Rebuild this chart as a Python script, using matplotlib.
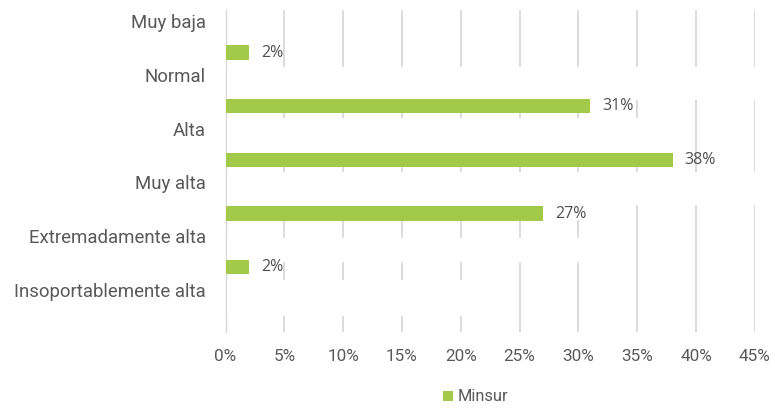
import matplotlib.pyplot as plt
from matplotlib.patches import Rectangle

# data
categories = ["Muy baja", "Normal", "Alta", "Muy alta",
              "Extremadamente alta", "Insoportablemente alta"]
minsur = [2, 31, 38, 27, 2, 0]
value_labels = ["2%", "31%", "38%", "27%", "2%", ""]
x_ticks = [0, 5, 10, 15, 20, 25, 30, 35, 40, 45]

green = "#A2C94A"
text_gray = "#595959"

plt.rcParams['font.family'] = ['Roboto', 'DejaVu Sans']

fig = plt.figure(figsize=(7.75, 4.08), dpi=100)
ax = fig.add_axes([0.291, 0.186, 0.683, 0.789])
ax.set_axisbelow(True)

pos = list(range(len(categories)))
bar_pos = [p + 0.29 for p in pos]
label_pos = [p - 0.29 for p in pos]

ax.barh(bar_pos, minsur, height=0.27, color=green, zorder=3, label="Minsur")
for y, v, s in zip(bar_pos, minsur, value_labels):
    if s:
        ax.text(v + 1.0, y, s, va="center", ha="left", fontsize=11.5,
                color="#505050", family=['Open Sans', 'DejaVu Sans'], zorder=4)

ax.set_xlim(0, 45)
ax.set_ylim(5.5, -0.5)
ax.set_xticks(x_ticks)
ax.set_xticklabels([f"{t}%" for t in x_ticks])
ax.set_yticks(label_pos)
ax.set_yticklabels(categories)
ax.tick_params(axis="x", length=0, colors=text_gray, labelsize=12.3, pad=12)
ax.tick_params(axis="y", length=0, colors=text_gray, labelsize=13.4, pad=14)

ax.grid(axis="x", color="#D9D9D9", linewidth=1.3)
for s in ["top", "right", "bottom"]:
    ax.spines[s].set_visible(False)
ax.spines["left"].set_color("#C8D4DA")
ax.spines["left"].set_linewidth(1)
ax.spines["left"].set_zorder(0.4)

# white patches that hide parts of the grid in the original screenshot
# (x0, x1, y0, y1) in data units
patches = [(0, 45, 0.56, 1.18), (0, 39.3, 1.51, 2.16), (0, 45, 2.52, 3.13),
           (0, 31.8, 3.1, 3.41), (0, 32.4, 3.75, 4.2), (0, 20.5, 4.53, 5.2)]
for x0, x1, y0, y1 in patches:
    ax.add_patch(Rectangle((x0 + 0.15, y0), x1 - x0, y1 - y0,
                           color="white", zorder=1, linewidth=0))

leg = fig.legend(loc="center", bbox_to_anchor=(0.614, 0.027), frameon=False,
                 fontsize=11.8, handlelength=0.6, handleheight=0.6,
                 handletextpad=0.3)
for t in leg.get_texts():
    t.set_color(text_gray)

fig.savefig("out.png", dpi=100)
